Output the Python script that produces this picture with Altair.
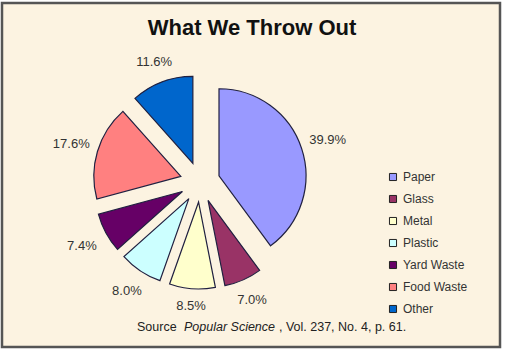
import math
import altair as alt
import pandas as pd

categories = ["Paper", "Glass", "Metal", "Plastic", "Yard Waste", "Food Waste", "Other"]
values = [39.9, 7.0, 8.5, 8.0, 7.4, 17.6, 11.6]
colors = ["#9999FF", "#993366", "#FFFFCC", "#CCFFFF", "#660066", "#FF8080", "#0066CC"]

title_text = "What We Throw Out"
source_parts = ["Source", "Popular Science", ", Vol. 237, No. 4, p. 61."]

W, H = 506, 356
CX, CY, R, EXPLODE = 200, 182, 87, 20

df = pd.DataFrame({"category": categories, "value": values, "order": list(range(len(categories)))})
one = pd.DataFrame({"k": [0]})

xs = alt.Scale(domain=[0, W], range=[0, W])
ys = alt.Scale(domain=[0, H], range=[0, H])

base = alt.Chart(df).transform_window(
    cum="sum(value)", sort=[alt.SortField("order")], frame=[None, 0]
).transform_calculate(
    start="datum.cum - datum.value",
    mid="(datum.cum - datum.value / 2) * 2 * PI / 100",
    cx=f"{CX} + {EXPLODE} * sin(datum.mid)",
    cy=f"{CY} - {EXPLODE} * cos(datum.mid)",
).transform_calculate(
    lr="116 + 17 * abs(sin(datum.mid)) + 7 * abs(cos(datum.mid))",
).transform_calculate(
    lx=f"{CX} + datum.lr * sin(datum.mid)",
    ly=f"{CY} - datum.lr * cos(datum.mid)",
    label="format(datum.value, '.1f') + '%'",
)

frame = alt.Chart(one).mark_rect(fill="#FCF3E1", stroke="#555555", strokeWidth=2.5).encode(
    x=alt.value(2), x2=alt.value(500), y=alt.value(3), y2=alt.value(347)
)

arcs = base.mark_arc(outerRadius=R, stroke="#202040", strokeWidth=1.2).encode(
    theta=alt.Theta("start:Q", scale=alt.Scale(domain=[0, 100], range=[0, 2 * math.pi]), stack=None),
    theta2="cum:Q",
    x=alt.X("cx:Q", scale=xs, axis=None),
    y=alt.Y("cy:Q", scale=ys, axis=None),
    color=alt.Color(
        "category:N",
        scale=alt.Scale(domain=categories, range=colors),
        sort=categories,
        legend=alt.Legend(
            title=None, orient="none", legendX=387, legendY=171,
            symbolType="square", symbolSize=50, symbolStrokeColor="#222222", symbolStrokeWidth=1,
            labelFont="Liberation Sans", labelFontSize=12, labelColor="#333333",
            rowPadding=10, labelOffset=4,
        ),
    ),
)

labels = base.mark_text(font="Liberation Sans", fontSize=13, color="#333333", align="center", baseline="middle").encode(
    x=alt.X("lx:Q", scale=xs, axis=None),
    y=alt.Y("ly:Q", scale=ys, axis=None),
    text="label:N",
)

title = alt.Chart(one).mark_text(
    text=title_text, font="Liberation Sans", fontSize=22, fontWeight="bold", color="#111111",
    align="center", baseline="middle"
).encode(x=alt.value(252), y=alt.value(28))

src1 = alt.Chart(one).mark_text(text=source_parts[0], font="Liberation Sans", fontSize=12.5, color="#222222",
                                align="left", baseline="middle").encode(x=alt.value(137), y=alt.value(327))
src2 = alt.Chart(one).mark_text(text=source_parts[1], font="Liberation Sans", fontSize=12.5, fontStyle="italic",
                                color="#222222", align="left", baseline="middle").encode(x=alt.value(184), y=alt.value(327))
src3 = alt.Chart(one).mark_text(text=source_parts[2], font="Liberation Sans", fontSize=12.5, color="#222222",
                                align="left", baseline="middle").encode(x=alt.value(279), y=alt.value(327))

chart = alt.layer(frame, arcs, labels, title, src1, src2, src3).properties(
    width=W, height=H, padding=0, autosize=alt.AutoSizeParams(type="none"), background="white"
).configure_view(stroke=None)

chart.save("out.html", embed_options={"renderer": "svg", "actions": False})
